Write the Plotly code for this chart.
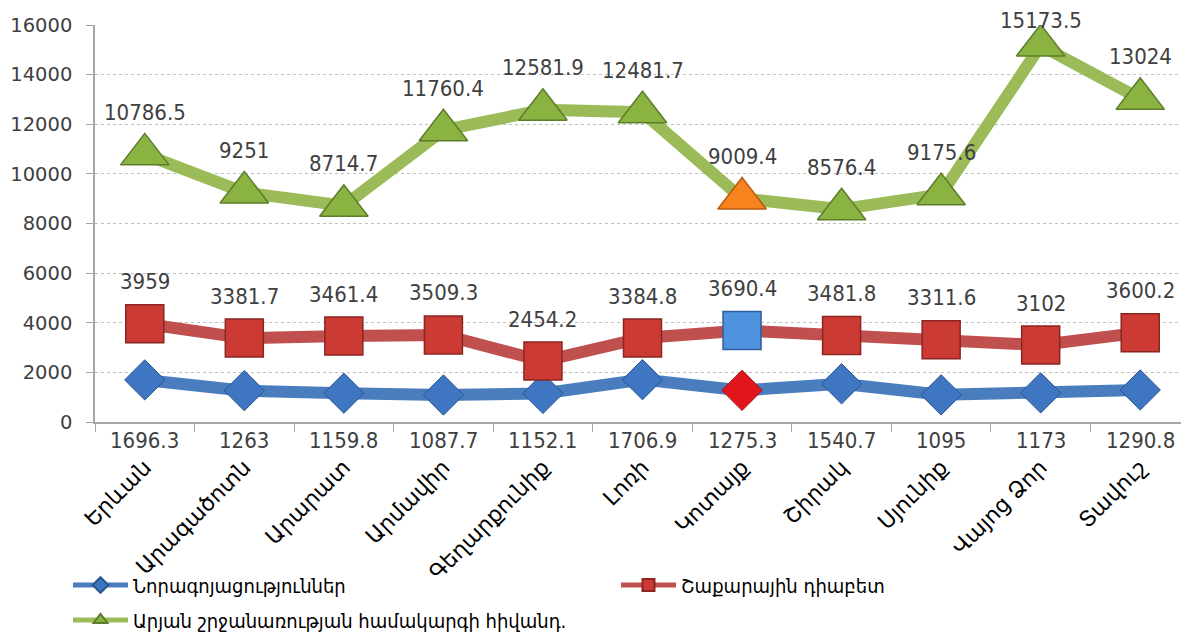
import plotly.graph_objects as go

regions = ["Երևան", "Արագածոտն", "Արարատ", "Արմավիր", "Գեղարքունիք", "Լոռի",
           "Կոտայք", "Շիրակ", "Սյունիք", "Վայոց Ձոր", "Տավուշ"]
neoplasms = [1696.3, 1263, 1159.8, 1087.7, 1152.1, 1706.9, 1275.3, 1540.7, 1095, 1173, 1290.8]
diabetes = [3959, 3381.7, 3461.4, 3509.3, 2454.2, 3384.8, 3690.4, 3481.8, 3311.6, 3102, 3600.2]
circulatory = [10786.5, 9251, 8714.7, 11760.4, 12581.9, 12481.7, 9009.4, 8576.4, 9175.6, 15173.5, 13024]
series_names = ["Նորագոյացություններ", "Շաքարային դիաբետ", "Արյան շրջանառության համակարգի հիվանդ."]
highlight = "Կոտայք"
y_ticks = [0, 2000, 4000, 6000, 8000, 10000, 12000, 14000, 16000]

COND = "DejaVu Sans Condensed, DejaVu Sans, sans-serif"
WIDE = "DejaVu Sans, sans-serif"
TXT = "#404040"
W, H = 1189, 636
OFF = 8  # page body margin offset
PLOT_TOP, PLOT_BOTTOM = 25, 422
Y_MAX = 16000

def colors(base, special):
    return [special if r == highlight else base for r in regions]

fig = go.Figure()

fig.add_trace(go.Scatter(
    x=regions, y=neoplasms, name=series_names[0], mode="lines+markers", legend="legend",
    line=dict(color="#4A7DBD", width=12),
    marker=dict(symbol="diamond", size=31, color=colors("#3E76C2", "#E3151C"),
                line=dict(color=colors("#2A5590", "#A00F14"), width=1)),
))
fig.add_trace(go.Scatter(
    x=regions, y=diabetes, name=series_names[1], mode="lines+markers", legend="legend2",
    line=dict(color="#C0504D", width=12),
    marker=dict(symbol="square", size=38, color=colors("#CC3B33", "#4F93DE"),
                line=dict(color=colors("#8A2521", "#2C5E9E"), width=1.5)),
))
fig.add_trace(go.Scatter(
    x=regions, y=circulatory, name=series_names[2], mode="lines+markers", legend="legend3",
    line=dict(color="#9BBB59", width=12),
    marker=dict(symbol="triangle-up", size=42, color=colors("#8AB342", "#F7821E"),
                line=dict(color=colors("#5C7D2A", "#B85A10"), width=1.5)),
))

def above_shift(v, gap=42):
    # keep label inside the chart area (as the original does near the top)
    room = (Y_MAX - v) / Y_MAX * (PLOT_BOTTOM - PLOT_TOP) + PLOT_TOP - 20
    return min(gap, room)

ann = []
for r, v in zip(regions, neoplasms):
    ann.append(dict(x=r, y=0, text=f"{v:g}", showarrow=False, yshift=-18,
                    font=dict(size=22, color=TXT, family=COND)))
for r, v in zip(regions, diabetes):
    ann.append(dict(x=r, y=v, text=f"{v:g}", showarrow=False, yshift=above_shift(v),
                    font=dict(size=22, color=TXT, family=COND)))
for r, v in zip(regions, circulatory):
    ann.append(dict(x=r, y=v, text=f"{v:g}", showarrow=False, yshift=above_shift(v),
                    font=dict(size=22, color=TXT, family=COND)))

legend_common = dict(orientation="h", xanchor="left", yanchor="middle", xref="container",
                     yref="container", itemwidth=55, itemsizing="constant",
                     font=dict(size=20, color="#000000", family=COND),
                     bgcolor="rgba(0,0,0,0)")

def lx(px):
    return (px - OFF) / W

def ly(px):
    return 1 - (px - OFF) / H

fig.update_layout(
    width=W, height=H,
    margin=dict(l=95 - OFF, r=OFF - 1, t=PLOT_TOP - OFF, b=H - (PLOT_BOTTOM - OFF)),
    paper_bgcolor="white", plot_bgcolor="white",
    font=dict(family=COND, size=17, color=TXT),
    annotations=ann,
    showlegend=True,
    legend=dict(x=lx(68), y=ly(585), **legend_common),
    legend2=dict(x=lx(616), y=ly(585), **legend_common),
    legend3=dict(x=lx(68), y=ly(620), **legend_common),
    xaxis=dict(type="category", showgrid=False, showline=True, linecolor="#A6A6A6",
               linewidth=1.5, ticks="outside", tickson="boundaries", ticklen=8,
               tickcolor="#A6A6A6", tickangle=-45, ticklabelstandoff=22,
               tickfont=dict(size=22, color="#000000", family=WIDE), range=[-0.5, 10.5],
               automargin=False),
    yaxis=dict(range=[0, Y_MAX], tickvals=y_ticks, tickformat="d", showgrid=True,
               gridcolor="#BFBFBF", griddash="dot", gridwidth=1, showline=True,
               linecolor="#A6A6A6", linewidth=1.5, ticks="outside", ticklen=7,
               tickcolor="#A6A6A6", zeroline=False, automargin=False,
               ticklabelstandoff=10, tickfont=dict(size=19.5, color=TXT, family=WIDE)),
)

fig.write_html("out.html")
